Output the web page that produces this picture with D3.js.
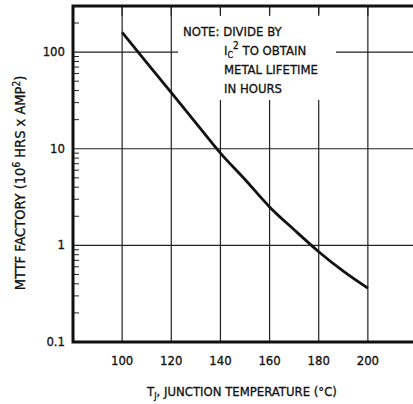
<!DOCTYPE html>
<html>
<head>
<meta charset="utf-8">
<style>
  body { margin: 0; background: #fff; }
  svg { display: block; }
  text {
    font-family: 'Liberation Sans Narrow', 'DejaVu Sans Condensed', 'DejaVu Sans', sans-serif;
    font-size: 13px;
    fill: #111;
    stroke: #111;
    stroke-width: 0.3;
  }
</style>
</head>
<body>
<svg width="413" height="404"></svg>

<script src="https://d3js.org/d3.v7.min.js"></script>
<script>
  let temps = [100, 110, 120, 130, 140, 150, 160, 170, 180, 190, 200];
  let mttf = [160, 78, 38, 18.5, 9.0, 4.8, 2.5, 1.45, 0.86, 0.54, 0.36];
  let xTicks = [100, 120, 140, 160, 180, 200];
  let yTicks = [0.1, 1, 10, 100];
  let yTickLabels = ["0.1", "1", "10", "100"];

  let svg = d3.select("svg");

  let plotL = 73, plotR = 417, plotT = 6, plotB = 342;

  let x = d3.scaleLinear().domain([80, 220]).range([plotL, plotR]);
  let y = d3.scaleLog().domain([0.1, 300]).range([plotB, plotT]);

  // grid
  let grid = svg.append("g").attr("stroke", "#222").attr("stroke-width", 1.2);
  grid.selectAll(".vg")
    .data(xTicks)
    .join("line")
    .attr("x1", d => x(d)).attr("x2", d => x(d))
    .attr("y1", plotT).attr("y2", plotB);
  grid.selectAll(".hg")
    .data(yTicks.slice(1))
    .join("line")
    .attr("x1", plotL).attr("x2", 413)
    .attr("y1", d => y(d)).attr("y2", d => y(d));

  // minor ticks on left axis
  let minor = [];
  [0.1, 1, 10, 100].forEach(dec => {
    for (let k = 2; k <= 9; k++) {
      if (dec * k <= 300) minor.push(dec * k);
    }
  });
  svg.append("g")
    .selectAll("line")
    .data(minor)
    .join("line")
    .attr("x1", plotL).attr("x2", plotL + 6)
    .attr("y1", d => y(d)).attr("y2", d => y(d))
    .attr("stroke", "#222").attr("stroke-width", 1);

  // note box blanks the grid behind it
  svg.append("rect")
    .attr("x", 178).attr("y", plotT + 8)
    .attr("width", 158).attr("height", 86)
    .attr("fill", "#fff");

  svg.append("g")
    .selectAll("line")
    .data(xTicks)
    .join("line")
    .attr("x1", d => x(d)).attr("x2", d => x(d))
    .attr("y1", plotT).attr("y2", plotT + 10)
    .attr("stroke", "#222").attr("stroke-width", 1.2);

  // frame: top, left, bottom
  svg.append("path")
    .attr("d", `M413,${plotT} H${plotL} V${plotB} H413`)
    .attr("fill", "none")
    .attr("stroke", "#111")
    .attr("stroke-width", 3);

  // curve
  let line = d3.line()
    .x((d, i) => x(temps[i]))
    .y(d => y(d))
    .curve(d3.curveMonotoneX);

  svg.append("path")
    .datum(mttf)
    .attr("d", line)
    .attr("fill", "none")
    .attr("stroke", "#111")
    .attr("stroke-width", 2.8);

  // tick labels
  svg.append("g")
    .selectAll("text")
    .data(yTicks)
    .join("text")
    .attr("x", 65)
    .attr("y", d => y(d) + 4)
    .attr("text-anchor", "end")
    .text((d, i) => yTickLabels[i]);

  svg.append("g")
    .selectAll("text")
    .data(xTicks)
    .join("text")
    .attr("x", d => x(d))
    .attr("y", 365)
    .attr("text-anchor", "middle")
    .text(d => d);

  // axis titles
  let xt = svg.append("text")
    .attr("x", 242).attr("y", 396)
    .attr("text-anchor", "middle");
  xt.append("tspan").text("T");
  xt.append("tspan").attr("font-size", 9).attr("dy", 3).text("J");
  xt.append("tspan").attr("dy", -3).text(", JUNCTION TEMPERATURE (°C)");

  let yt = svg.append("text")
    .attr("transform", "translate(25,183) rotate(-90)")
    .attr("text-anchor", "middle")
    .style("font-size", "14.5px");
  yt.append("tspan").text("MTTF FACTORY (10");
  yt.append("tspan").attr("font-size", 10).attr("dy", -5).text("6");
  yt.append("tspan").attr("dy", 5).text(" HRS x AMP");
  yt.append("tspan").attr("font-size", 10).attr("dy", -5).text("2");
  yt.append("tspan").attr("dy", 5).text(")");

  // note
  let note = svg.append("g");
  note.append("text").attr("x", 183).attr("y", 36).text("NOTE: DIVIDE BY");
  let n2 = note.append("text").attr("x", 224).attr("y", 55);
  n2.append("tspan").text("I");
  n2.append("tspan").attr("font-size", 9).attr("dy", 3).text("C");
  n2.append("tspan").attr("font-size", 10).attr("dy", -9).text("2");
  n2.append("tspan").attr("dy", 6).text(" TO OBTAIN");
  note.append("text").attr("x", 224).attr("y", 74).text("METAL LIFETIME");
  note.append("text").attr("x", 224).attr("y", 93).text("IN HOURS");
</script>
</body>
</html>
